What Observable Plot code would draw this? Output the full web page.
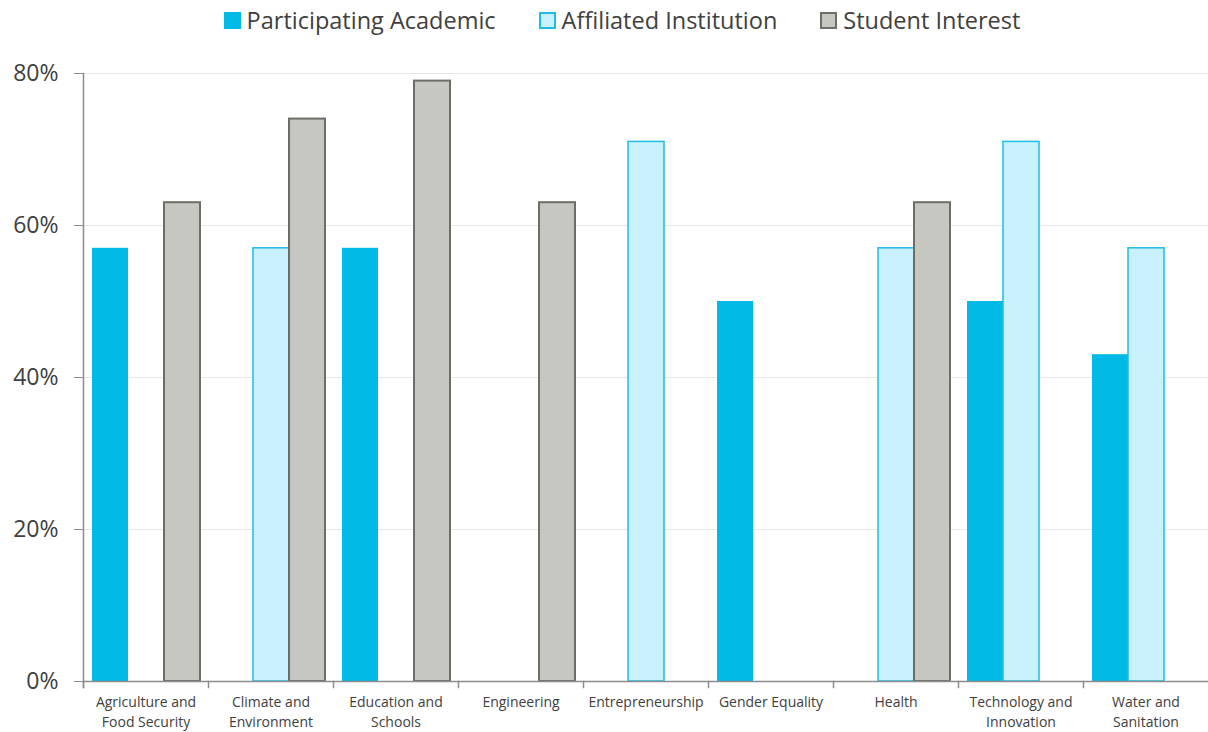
<!DOCTYPE html>
<html><head><meta charset="utf-8">
<script src="https://cdn.jsdelivr.net/npm/d3@7"></script>
<script src="https://cdn.jsdelivr.net/npm/@observablehq/plot@0.6"></script>
<style>
body{margin:0;background:#fff;font-family:"Open Sans",sans-serif;}
#legend{height:40px;display:flex;justify-content:center;align-items:center;gap:43px;font-size:23.5px;color:#404040;padding-left:36px;}
.item{display:flex;align-items:center;gap:6px;}
.sw{width:17px;height:17px;box-sizing:border-box;}
</style></head><body>
<div id="legend"></div>
<div id="chart"></div>
<script>
const categories = ["Agriculture and\nFood Security","Climate and\nEnvironment","Education and\nSchools","Engineering","Entrepreneurship","Gender Equality","Health","Technology and\nInnovation","Water and\nSanitation"];
const series = ["Participating Academic","Affiliated Institution","Student Interest"];
const academic   = [57, null, 57, null, null, 50, null, 50, 43];
const affiliated = [null, 57, null, null, 71, null, 57, 71, 57];
const student    = [63, 74, 79, 63, null, null, 63, null, null];
const yTicks = [0, 20, 40, 60, 80];
const fills   = ["#00B9E4", "#C8F1FC", "#C6C7C1"];
const strokes = ["#00B9E4", "#1DBDE6", "#6E6E68"];
const strokeWidths = [0, 1.5, 2];

const seriesValues = [academic, affiliated, student];
const rows = [];
series.forEach((s, si) => categories.forEach((c, ci) => {
  const v = seriesValues[si][ci];
  if (v != null) rows.push({category: c, series: s, value: v});
}));

const legend = document.getElementById("legend");
series.forEach((s, i) => {
  const it = document.createElement("div"); it.className = "item";
  const sw = document.createElement("div"); sw.className = "sw";
  sw.style.background = fills[i];
  sw.style.border = `2px solid ${i === 0 ? fills[i] : strokes[i]}`;
  const t = document.createElement("span"); t.textContent = s;
  it.append(sw, t); legend.append(it);
});

const W = 1208, H = 692, mT = 33, mB = 51, mL = 82, mR = 0;
const plotH = H - mT - mB;
const axisColor = "#8C8C8C";

const chart = Plot.plot({
  width: W, height: H,
  marginTop: mT, marginBottom: mB, marginLeft: mL, marginRight: mR,
  style: {fontFamily: "Open Sans, sans-serif", background: "#fff"},
  fx: {domain: categories, padding: 0, label: null},
  x: {domain: series, paddingInner: 0, paddingOuter: 0.22, axis: null},
  y: {domain: [0, 80], label: null},
  marks: [
    Plot.gridY(yTicks.slice(1), {stroke: "#E8E8E8", strokeOpacity: 1}),
    ...series.map((s, i) => Plot.barY(rows.filter(d => d.series === s), {
      fx: "category", x: "series", y: "value",
      fill: fills[i], stroke: strokeWidths[i] ? strokes[i] : "none", strokeWidth: strokeWidths[i]
    })),
    Plot.ruleY([0], {stroke: axisColor, strokeWidth: 1.5}),
    Plot.frame({anchor: "left", stroke: axisColor, strokeWidth: 1.5, insetTop: plotH, insetBottom: -6}),
    Plot.frame({anchor: "left", stroke: axisColor, strokeWidth: 1.5, insetBottom: -6, facetAnchor: "left"}),
    Plot.axisY(yTicks, {tickSize: 9, tickPadding: 16, fontSize: 23, color: "#404040", stroke: axisColor, tickFormat: d => d + "%", label: null}),
    Plot.axisFx({anchor: "bottom", tickSize: 0, tickPadding: 11, fontSize: 14, lineHeight: 1.43, color: "#404040", label: null})
  ]
});
document.getElementById("chart").append(chart);
</script>
</body></html>
